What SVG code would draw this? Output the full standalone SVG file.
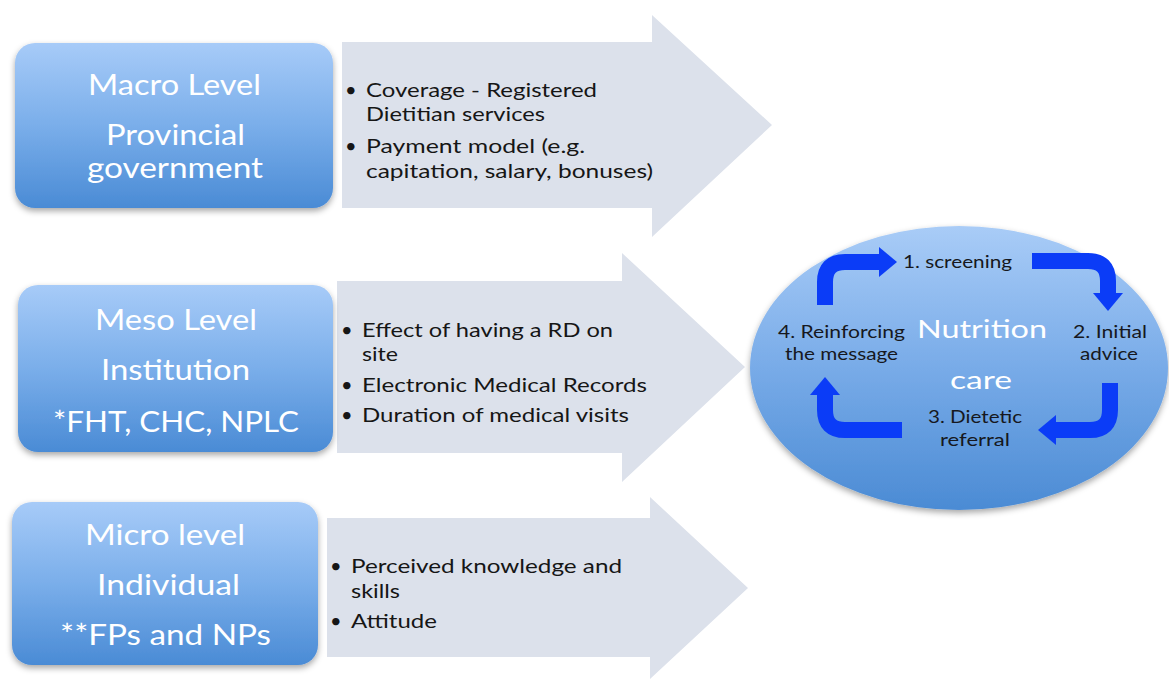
<svg xmlns="http://www.w3.org/2000/svg" width="1169" height="684" viewBox="0 0 1169 684">
  <defs>
    <linearGradient id="boxGrad" x1="0" y1="0" x2="0" y2="1">
      <stop offset="0" stop-color="#a7cbf8"/>
      <stop offset="0.5" stop-color="#7aaeea"/>
      <stop offset="1" stop-color="#4a8bd5"/>
    </linearGradient>
    <linearGradient id="ellGrad" x1="0" y1="0" x2="0" y2="1">
      <stop offset="0" stop-color="#a9ccf7"/>
      <stop offset="0.5" stop-color="#78abe8"/>
      <stop offset="1" stop-color="#4b8bd4"/>
    </linearGradient>
    <filter id="shadow" x="-10%" y="-10%" width="120%" height="130%">
      <feDropShadow dx="0" dy="3" stdDeviation="3" flood-color="#000" flood-opacity="0.35"/>
    </filter>
    <marker id="head" viewBox="0 0 18 30" refX="0" refY="15" markerWidth="18" markerHeight="30" markerUnits="userSpaceOnUse" orient="auto">
      <path d="M0,0 L18,15 L0,30 z" fill="#0b3cf7"/>
    </marker>
  </defs>
  <style>
    .box { fill: url(#boxGrad); filter: url(#shadow); }
    .arrow { fill: #dce1eb; }
    .title { font-family: Lato, "Open Sans", sans-serif; font-size: 28px; fill: #ffffff; }
    .bullet { font-family: Lato, "Open Sans", sans-serif; font-size: 20px; fill: #161616; }
    .step { font-family: Lato, "Open Sans", sans-serif; font-size: 17px; fill: #161820; }
    .big { font-family: Lato, "Open Sans", sans-serif; font-size: 25px; fill: #ffffff; }
    .cyc { fill: none; stroke: #0b3cf7; stroke-width: 16; marker-end: url(#head); }
  </style>

  <g id="macro-arrow">
    <polygon class="arrow" points="342,42 652,42 652,15 772,125 652,237 652,208 342,208"/>
    <text class="bullet" x="345" y="97">•</text>
    <text class="bullet" x="366" y="97" textLength="231" lengthAdjust="spacingAndGlyphs">Coverage - Registered</text>
    <text class="bullet" x="366" y="121" textLength="179" lengthAdjust="spacingAndGlyphs">Dietitian services</text>
    <text class="bullet" x="345" y="153">•</text>
    <text class="bullet" x="366" y="153" textLength="219" lengthAdjust="spacingAndGlyphs">Payment model (e.g.</text>
    <text class="bullet" x="366" y="178" textLength="287" lengthAdjust="spacingAndGlyphs">capitation, salary, bonuses)</text>
  </g>

  <g id="meso-arrow">
    <polygon class="arrow" points="337,281 622,281 622,253 745,367 622,482 622,453 337,453"/>
    <text class="bullet" x="341" y="337">•</text>
    <text class="bullet" x="362" y="337" textLength="251" lengthAdjust="spacingAndGlyphs">Effect of having a RD on</text>
    <text class="bullet" x="362" y="361" textLength="36" lengthAdjust="spacingAndGlyphs">site</text>
    <text class="bullet" x="341" y="392">•</text>
    <text class="bullet" x="362" y="392" textLength="285" lengthAdjust="spacingAndGlyphs">Electronic Medical Records</text>
    <text class="bullet" x="341" y="422">•</text>
    <text class="bullet" x="362" y="422" textLength="267" lengthAdjust="spacingAndGlyphs">Duration of medical visits</text>
  </g>

  <g id="micro-arrow">
    <polygon class="arrow" points="327,518 650,518 650,497 748,588 650,679 650,657 327,657"/>
    <text class="bullet" x="330" y="573">•</text>
    <text class="bullet" x="351" y="573" textLength="271" lengthAdjust="spacingAndGlyphs">Perceived knowledge and</text>
    <text class="bullet" x="351" y="598" textLength="49" lengthAdjust="spacingAndGlyphs">skills</text>
    <text class="bullet" x="330" y="628">•</text>
    <text class="bullet" x="351" y="628" textLength="86" lengthAdjust="spacingAndGlyphs">Attitude</text>
  </g>

  <g id="macro">
    <rect class="box" x="15" y="43" width="318" height="165" rx="20"/>
    <text class="title" x="88" y="95" textLength="173" lengthAdjust="spacingAndGlyphs">Macro Level</text>
    <text class="title" x="106" y="145" textLength="139" lengthAdjust="spacingAndGlyphs">Provincial</text>
    <text class="title" x="87" y="178" textLength="176" lengthAdjust="spacingAndGlyphs">government</text>
  </g>

  <g id="meso">
    <rect class="box" x="18" y="285" width="315" height="167" rx="20"/>
    <text class="title" x="95" y="330" textLength="162" lengthAdjust="spacingAndGlyphs">Meso Level</text>
    <text class="title" x="101" y="380" textLength="149" lengthAdjust="spacingAndGlyphs">Institution</text>
    <text class="title" x="53" y="432" textLength="246" lengthAdjust="spacingAndGlyphs">*FHT, CHC, NPLC</text>
  </g>

  <g id="micro">
    <rect class="box" x="12" y="502" width="306" height="163" rx="20"/>
    <text class="title" x="85" y="545" textLength="160" lengthAdjust="spacingAndGlyphs">Micro level</text>
    <text class="title" x="97" y="595" textLength="143" lengthAdjust="spacingAndGlyphs">Individual</text>
    <text class="title" x="60" y="645" textLength="211" lengthAdjust="spacingAndGlyphs">**FPs and NPs</text>
  </g>

  <g id="nutrition-care">
    <ellipse cx="959" cy="368" rx="209" ry="142" fill="url(#ellGrad)" filter="url(#shadow)"/>
    <text class="big" x="917" y="338" textLength="130" lengthAdjust="spacingAndGlyphs">Nutrition</text>
    <text class="big" x="950" y="389" textLength="62" lengthAdjust="spacingAndGlyphs">care</text>
    <text class="step" x="903" y="268" textLength="109" lengthAdjust="spacingAndGlyphs">1. screening</text>
    <text class="step" x="1073" y="338" textLength="74" lengthAdjust="spacingAndGlyphs">2. Initial</text>
    <text class="step" x="1080" y="360" textLength="58" lengthAdjust="spacingAndGlyphs">advice</text>
    <text class="step" x="928" y="423" textLength="94" lengthAdjust="spacingAndGlyphs">3. Dietetic</text>
    <text class="step" x="940" y="446" textLength="70" lengthAdjust="spacingAndGlyphs">referral</text>
    <text class="step" x="778" y="338" textLength="127" lengthAdjust="spacingAndGlyphs">4. Reinforcing</text>
    <text class="step" x="785" y="360" textLength="113" lengthAdjust="spacingAndGlyphs">the message</text>
  </g>

  <g id="connectors">
    <path class="cyc" d="M825,305 V282 Q825,262 845,262 H879"/>
    <path class="cyc" d="M1032,261 H1088 Q1108,261 1108,281 V293"/>
    <path class="cyc" d="M1110,383 V410 Q1110,430 1090,430 H1056"/>
    <path class="cyc" d="M902,430 H845 Q825,430 825,410 V395"/>
  </g>
</svg>
